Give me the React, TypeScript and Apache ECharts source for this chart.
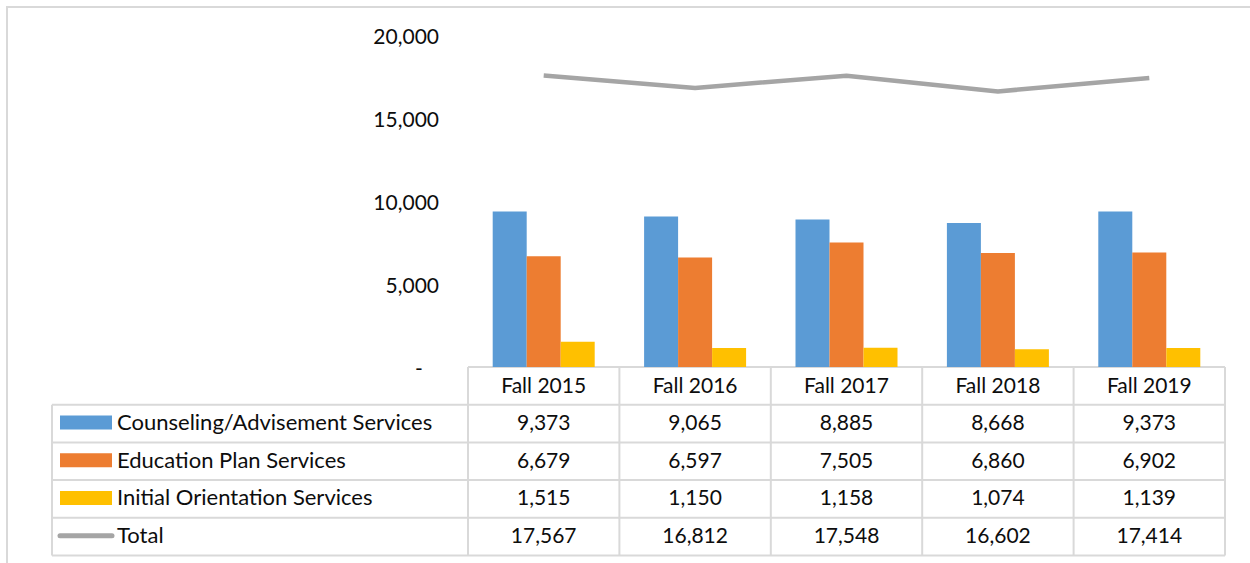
import React, { useEffect, useRef } from "react";
import * as echarts from "echarts";

const categories = ["Fall 2015", "Fall 2016", "Fall 2017", "Fall 2018", "Fall 2019"];
const seriesNames = [
  "Counseling/Advisement Services",
  "Education Plan Services",
  "Initial Orientation Services",
  "Total",
];
const counseling = [9373, 9065, 8885, 8668, 9373];
const education = [6679, 6597, 7505, 6860, 6902];
const orientation = [1515, 1150, 1158, 1074, 1139];
const total = [17567, 16812, 17548, 16602, 17414];
const colors = ["#5b9bd5", "#ed7d31", "#ffc000", "#a5a5a5"];

const FONT = 'Lato, "Open Sans", sans-serif';
const fmt = (v: number) => v.toLocaleString("en-US");

export default function App() {
  const ref = useRef<HTMLDivElement>(null);
  useEffect(() => {
    if (!ref.current) return;
    const chart = echarts.init(ref.current, null, { renderer: "svg" });
    chart.setOption({
      animation: false,
      grid: { left: 468, right: 25, top: 35, bottom: 196 },
      xAxis: {
        type: "category",
        data: categories,
        axisLine: { show: false },
        axisTick: { show: false },
        axisLabel: { show: false },
      },
      yAxis: {
        type: "value",
        min: 0,
        max: 20000,
        interval: 5000,
        splitLine: { show: false },
        axisLine: { show: false },
        axisTick: { show: false },
        axisLabel: {
          margin: 29,
          fontSize: 21,
          color: "#0d0d0d",
          fontFamily: FONT,
          formatter: (v: number) => (v === 0 ? "-\u00a0\u00a0\u00a0" : fmt(v)),
        },
      },
      series: [
        { name: seriesNames[0], type: "bar", data: counseling, barWidth: 34, barGap: "0%", itemStyle: { color: colors[0] } },
        { name: seriesNames[1], type: "bar", data: education, barWidth: 34, barGap: "0%", itemStyle: { color: colors[1] } },
        { name: seriesNames[2], type: "bar", data: orientation, barWidth: 34, barGap: "0%", itemStyle: { color: colors[2] } },
        {
          name: seriesNames[3],
          type: "line",
          data: total,
          symbol: "none",
          lineStyle: { color: colors[3], width: 4.5 },
          itemStyle: { color: colors[3] },
        },
      ],
    });

    const xs = categories.map((c) => chart.convertToPixel({ xAxisIndex: 0 }, c) as number);
    const step = xs[1] - xs[0];
    const colLeft = xs[0] - step / 2;
    const right = xs[xs.length - 1] + step / 2;
    const y0 = chart.convertToPixel({ yAxisIndex: 0 }, 0) as number;
    const tableLeft = 52;
    const rowH = 37.7;
    const lineColor = "#d9d9d9";
    const els: any[] = [];
    els.push({
      type: "rect",
      shape: { x: 7, y: 7, width: 1300, height: 620 },
      style: { fill: "none", stroke: lineColor, lineWidth: 2 },
      silent: true,
    });
    els.push({ type: "line", shape: { x1: colLeft, y1: y0, x2: right, y2: y0 }, style: { stroke: lineColor, lineWidth: 2 } });
    for (let r = 1; r <= 5; r++) {
      const y = y0 + r * rowH;
      els.push({ type: "line", shape: { x1: tableLeft, y1: y, x2: right, y2: y }, style: { stroke: lineColor, lineWidth: 2 } });
    }
    els.push({ type: "line", shape: { x1: tableLeft, y1: y0 + rowH, x2: tableLeft, y2: y0 + 5 * rowH }, style: { stroke: lineColor, lineWidth: 2 } });
    for (let c = 0; c <= categories.length; c++) {
      const x = colLeft + c * step;
      els.push({ type: "line", shape: { x1: x, y1: y0, x2: x, y2: y0 + 5 * rowH }, style: { stroke: lineColor, lineWidth: 2 } });
    }
    const textEl = (x: number, y: number, text: string, align = "center", size = 21) => ({
      type: "text",
      x,
      y,
      style: {
        text,
        fontSize: size,
        fontFamily: FONT,
        fill: "#0d0d0d",
        align,
        verticalAlign: "middle",
      },
    });
    categories.forEach((c, i) => els.push(textEl(xs[i], y0 + rowH / 2 - 1, c)));
    const rows = [counseling, education, orientation, total];
    rows.forEach((vals, r) => {
      const cy = y0 + (r + 1.5) * rowH;
      vals.forEach((v, i) => els.push(textEl(xs[i], cy - 2, fmt(v))));
      els.push(textEl(117, cy - 2, seriesNames[r], "left", 22));
      if (r < 3) {
        els.push({ type: "rect", shape: { x: 60, y: cy - 8, width: 52, height: 14 }, style: { fill: colors[r] } });
      } else {
        els.push({
          type: "line",
          shape: { x1: 60, y1: cy - 1, x2: 112, y2: cy - 1 },
          style: { stroke: colors[3], lineWidth: 5, lineCap: "round" },
        });
      }
    });
    chart.setOption({ graphic: els });
    return () => chart.dispose();
  }, []);
  return (
    <div
      ref={ref}
      style={{ position: "fixed", left: 0, top: 0, width: 1250, height: 563, background: "#fff" }}
    />
  );
}
